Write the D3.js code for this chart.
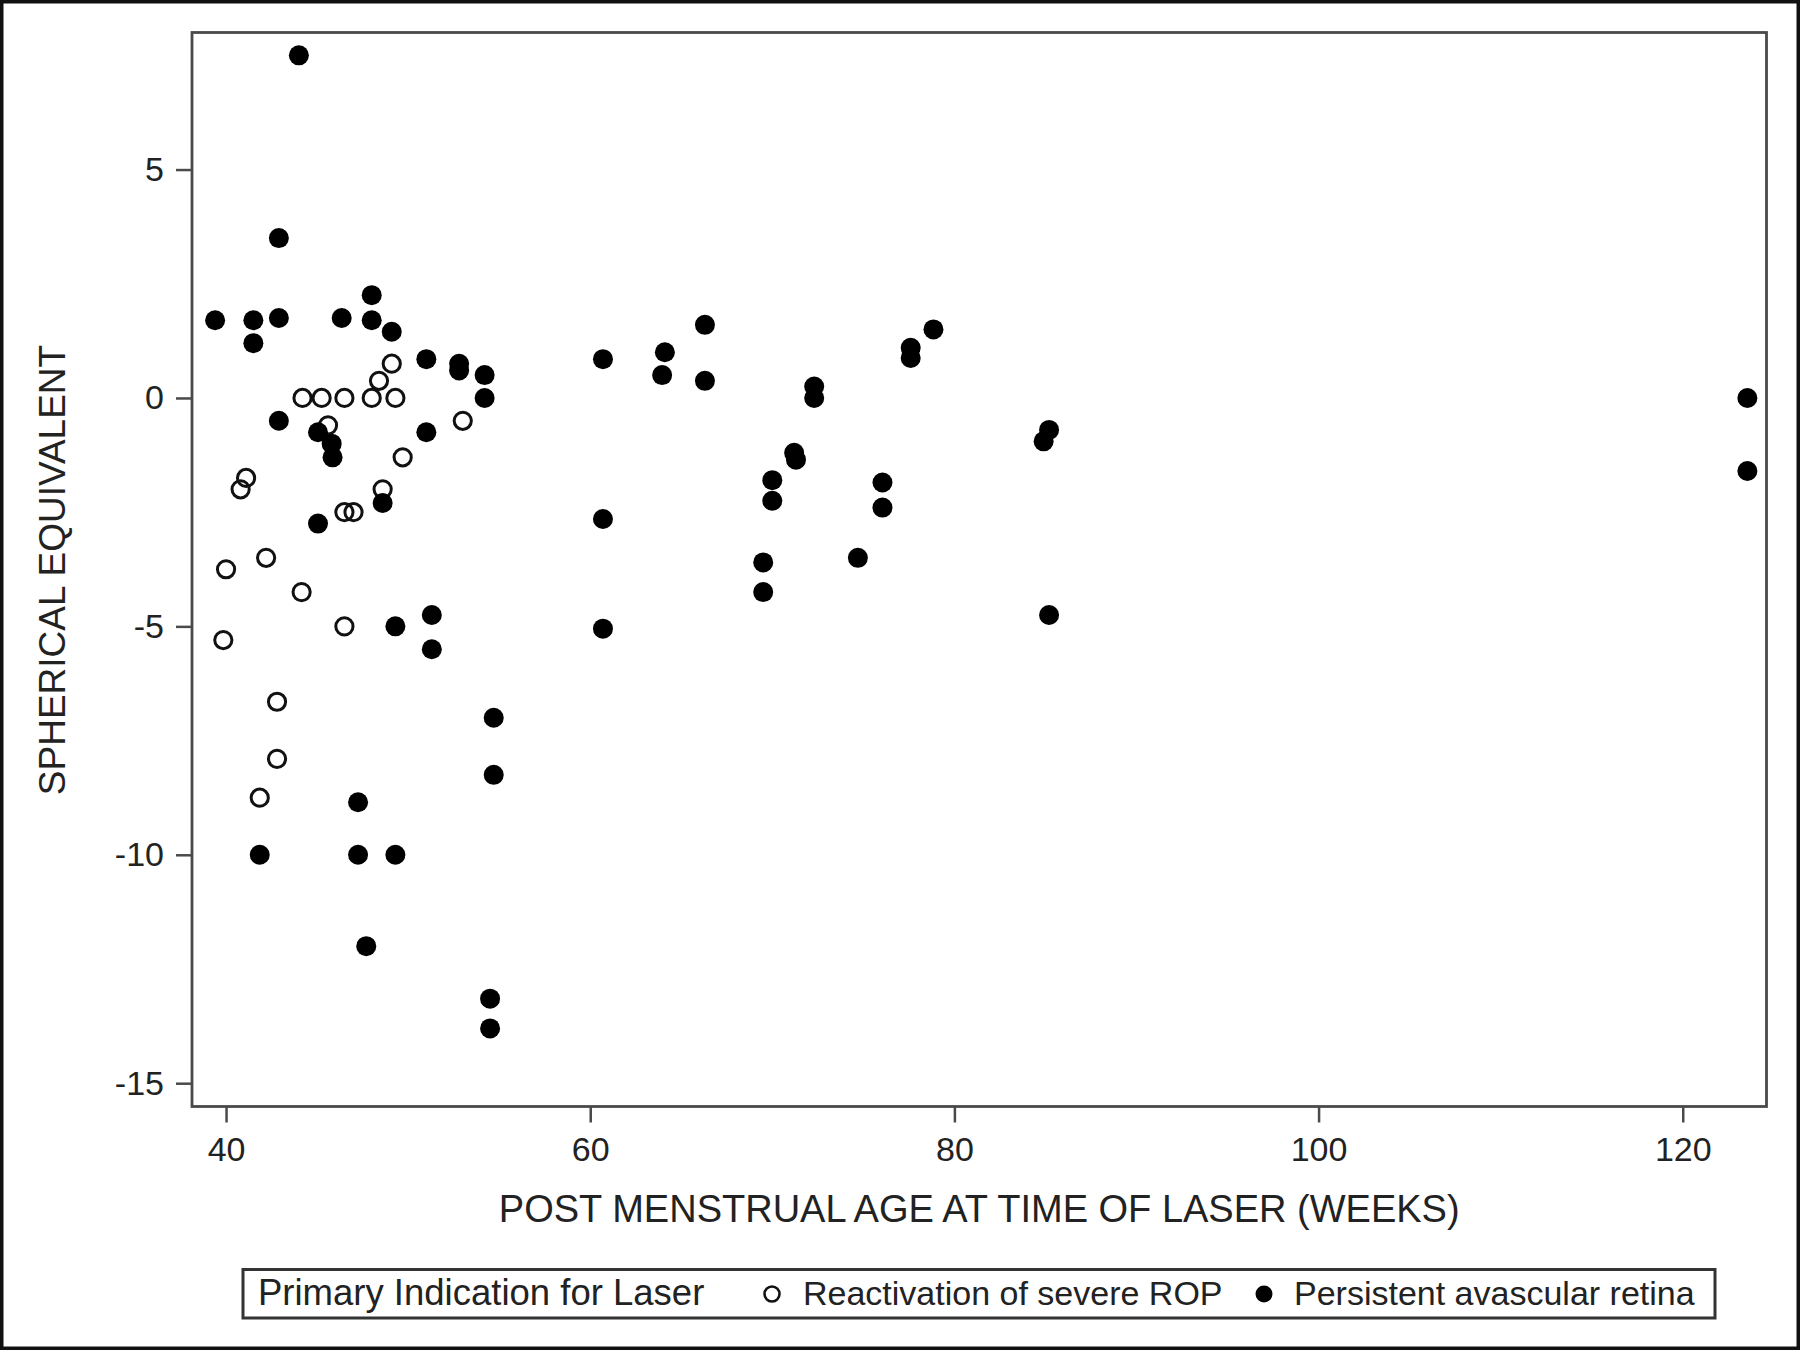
<!DOCTYPE html>
<html>
<head>
<meta charset="utf-8" />
<script src="https://cdn.jsdelivr.net/npm/d3@7"></script>
<style>
  html, body { margin: 0; padding: 0; background: #fff; }
  svg { display: block; font-family: "Liberation Sans", Arial, sans-serif; }
</style>
</head>
<body>
<div id="container"></div>
<script>
  // DATA
  // Reactivation of severe ROP (open circles)
  const reactAge = [44.2, 45.25, 46.5, 48.0, 49.3, 49.1, 48.4, 45.6, 53.0, 49.7, 41.1, 40.8,
    48.6, 46.5, 47.0, 42.2, 40.0, 44.15, 46.5, 39.85, 42.8, 42.8, 41.85];
  const reactSE = [0, 0, 0, 0, 0, 0.75, 0.375, -0.6, -0.5, -1.3, -1.75, -2.0,
    -2.0, -2.5, -2.5, -3.5, -3.75, -4.25, -5.0, -5.3, -6.65, -7.9, -8.75];

  // Persistent avascular retina (filled circles)
  const persAge = [44.0, 42.9, 39.4, 41.5, 41.5, 42.9, 46.35, 48.0, 48.0, 49.1, 51.0, 52.8,
    52.8, 54.2, 54.2, 42.9, 45.05, 45.8, 45.85, 51.0, 48.6, 45.05, 60.7, 49.3,
    51.3, 51.3, 60.7, 54.7, 54.7, 47.25, 41.85, 47.25, 49.3, 47.7, 54.5, 54.5,
    60.7, 64.1, 63.95, 66.3, 66.3, 72.3, 72.3, 77.6, 77.6, 78.85, 85.2, 84.9,
    71.2, 71.3, 70.0, 70.0, 76.05, 76.05, 69.5, 69.5, 74.7, 85.2, 123.55, 123.55];
  const persSE = [7.5, 3.5, 1.7, 1.7, 1.2, 1.75, 1.75, 2.25, 1.7, 1.45, 0.85, 0.75,
    0.6, 0.5, 0.0, -0.5, -0.75, -1.0, -1.3, -0.75, -2.3, -2.75, -2.65, -5.0,
    -4.75, -5.5, -5.05, -7.0, -8.25, -8.85, -10.0, -10.0, -10.0, -12.0, -13.15, -13.8,
    0.85, 1.0, 0.5, 1.6, 0.375, 0.25, 0.0, 1.1, 0.875, 1.5, -0.7, -0.95,
    -1.2, -1.35, -1.8, -2.25, -1.85, -2.4, -3.6, -4.25, -3.5, -4.75, 0.0, -1.6];

  const xTicks = [40, 60, 80, 100, 120];
  const xTickLabels = ["40", "60", "80", "100", "120"];
  const yTicks = [5, 0, -5, -10, -15];
  const yTickLabels = ["5", "0", "-5", "-10", "-15"];

  const xTitle = "POST MENSTRUAL AGE AT TIME OF LASER (WEEKS)";
  const yTitle = "SPHERICAL EQUIVALENT";
  const legendTitle = "Primary Indication for Laser";
  const seriesNames = ["Reactivation of severe ROP", "Persistent avascular retina"];

  // CONSTRUCT SVG
  const W = 1800, H = 1350;
  const margin = { top: 32.5, right: 33.5, bottom: 243.5, left: 192 };
  const width = W - margin.left - margin.right;
  const height = H - margin.top - margin.bottom;
  const ink = "#222";
  const frameCol = "#4a4a4a";

  const root = d3.select("#container").append("svg")
    .attr("width", W)
    .attr("height", H);

  // outer border of the figure
  root.append("rect")
    .attr("x", 1.5).attr("y", 1.5)
    .attr("width", W - 3).attr("height", H - 3)
    .attr("fill", "#fff")
    .attr("stroke", "#111")
    .attr("stroke-width", 4);

  const svg = root.append("g")
    .attr("transform", "translate(" + margin.left + "," + margin.top + ")");

  // SCALES & AXES
  const x = d3.scaleLinear().domain([38.13, 124.6]).range([0, width]);
  const y = d3.scaleLinear().domain([-15.51, 8.0]).range([height, 0]);

  const xAxis = svg.append("g")
    .attr("transform", "translate(0," + height + ")")
    .call(d3.axisBottom(x)
      .tickValues(xTicks)
      .tickFormat((d, i) => xTickLabels[i])
      .tickSize(16)
      .tickPadding(14));

  const yAxis = svg.append("g")
    .call(d3.axisLeft(y)
      .tickValues(yTicks)
      .tickFormat((d, i) => yTickLabels[i])
      .tickSize(16)
      .tickPadding(12));

  [xAxis, yAxis].forEach(function (a) {
    a.select(".domain").remove();
    a.selectAll(".tick line").attr("stroke", frameCol).attr("stroke-width", 2.5);
    a.selectAll(".tick text")
      .attr("fill", ink)
      .style("font-size", "34px")
      .style("font-family", "'Liberation Sans', Arial, sans-serif");
  });

  // plot frame
  svg.append("rect")
    .attr("x", 0).attr("y", 0)
    .attr("width", width).attr("height", height)
    .attr("fill", "none")
    .attr("stroke", frameCol)
    .attr("stroke-width", 2.8);

  // axis titles
  svg.append("text")
    .attr("x", width / 2)
    .attr("y", 1222 - margin.top)
    .attr("text-anchor", "middle")
    .attr("fill", ink)
    .style("font-size", "38px")
    .text(xTitle);

  root.append("text")
    .attr("transform", "translate(65,570) rotate(-90)")
    .attr("text-anchor", "middle")
    .attr("fill", ink)
    .style("font-size", "37px")
    .text(yTitle);

  // POINTS
  svg.append("g").selectAll("circle")
    .data(d3.range(reactAge.length))
    .enter().append("circle")
    .attr("cx", (i) => x(reactAge[i]))
    .attr("cy", (i) => y(reactSE[i]))
    .attr("r", 8.6)
    .attr("fill", "none")
    .attr("stroke", "#111")
    .attr("stroke-width", 3);

  svg.append("g").selectAll("circle")
    .data(d3.range(persAge.length))
    .enter().append("circle")
    .attr("cx", (i) => x(persAge[i]))
    .attr("cy", (i) => y(persSE[i]))
    .attr("r", 10)
    .attr("fill", "#000");

  // LEGEND
  const legend = root.append("g").attr("class", "legend");
  legend.append("rect")
    .attr("x", 243).attr("y", 1269.5)
    .attr("width", 1472).attr("height", 48.5)
    .attr("fill", "#fff")
    .attr("stroke", "#333")
    .attr("stroke-width", 3);

  legend.append("text")
    .attr("x", 258).attr("y", 1305)
    .attr("fill", ink)
    .style("font-size", "36.5px")
    .text(legendTitle);

  legend.append("circle")
    .attr("cx", 772).attr("cy", 1294)
    .attr("r", 7.5)
    .attr("fill", "none")
    .attr("stroke", "#111")
    .attr("stroke-width", 2.6);
  legend.append("text")
    .attr("x", 803).attr("y", 1305)
    .attr("fill", ink)
    .style("font-size", "34px")
    .text(seriesNames[0]);

  legend.append("circle")
    .attr("cx", 1264).attr("cy", 1294)
    .attr("r", 8.5)
    .attr("fill", "#000");
  legend.append("text")
    .attr("x", 1294).attr("y", 1305)
    .attr("fill", ink)
    .style("font-size", "34px")
    .text(seriesNames[1]);
</script>
</body>
</html>
